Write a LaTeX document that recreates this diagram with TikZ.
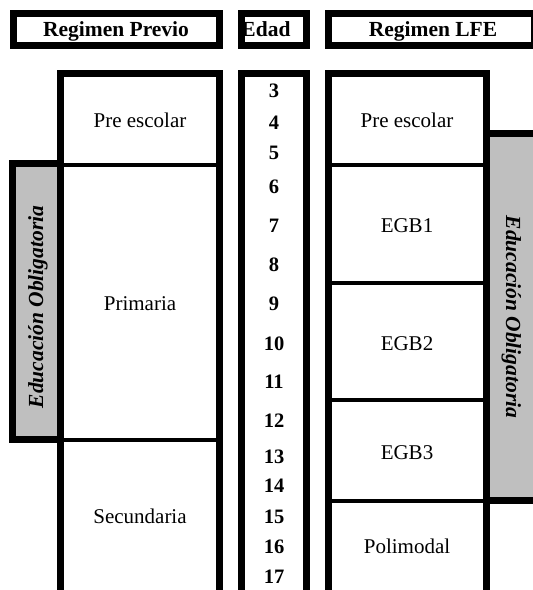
\documentclass[tikz,border=0pt]{standalone}
\usepackage{fontspec}
\setmainfont{Liberation Serif}
\tikzset{
  frame/.style={line width=7pt},
  divider/.style={line width=4pt},
  band/.style={frame, fill=black!25},
  txt/.style={inner sep=0pt, text height=14pt, text depth=0pt},
  cell/.style={txt, font=\fontsize{21}{25}\selectfont},
  head/.style={txt, font=\fontsize{21.5}{25}\selectfont\bfseries},
  age/.style={txt, font=\fontsize{20.5}{24}\selectfont\bfseries},
  vlabel/.style={txt, font=\fontsize{21.5}{25}\selectfont\bfseries\itshape},
}

\begin{document}
\begin{tikzpicture}[x=1pt,y=-1pt]
  \useasboundingbox (0,0) rectangle (533,590);
  \clip (0,0) rectangle (533,590);
  % Headers
  \draw[frame] (13,13) rectangle (219.5,45.5);
  \draw[frame] (241.5,13) rectangle (306.5,45.5);
  \draw[frame] (328.5,13) rectangle (534.5,45.5);
  \node[head] (hprevio) at (116,29) {Regimen Previo};
  \node[head] (hedad) at (266,29) {Edad};
  \node[head] (hlfe) at (433,29) {Regimen LFE};
  % Obligatory bands
  \draw[band] (12.5,163.5) rectangle (60.5,439.5);
  \draw[band] (486.5,133.5) rectangle (540,500.5);
  \node[vlabel, rotate=90] (oblprevio) at (36,307) {Educación Obligatoria};
  \node[vlabel, rotate=-90] (obllfe) at (513,317) {Educación Obligatoria};
  % Columns
  \draw[frame] (60.5,73.5) rectangle (219.5,594);
  \draw[frame] (241.5,73.5) rectangle (306.5,594);
  \draw[frame] (328.5,73.5) rectangle (486.5,594);
  % Regimen previo
  \draw[divider] (60.5,165) -- (219.5,165);
  \draw[divider] (60.5,439.5) -- (219.5,439.5);
  \node[cell] (preprevio) at (140,120) {Pre escolar};
  \node[cell] (primaria) at (140,303) {Primaria};
  \node[cell] (secundaria) at (140,516) {Secundaria};
  % Edades
  \foreach \y/\a in {90/3, 122/4, 152/5, 186/6, 225/7, 264/8, 303/9, 343/10,
      381/11, 420/12, 456/13, 485/14, 516/15, 546/16, 576/17} {
    \node[age] (age\a) at (274,\y) {\a};
  }
  % Regimen LFE
  \draw[divider] (328.5,165) -- (486.5,165);
  \draw[divider] (328.5,283) -- (486.5,283);
  \draw[divider] (328.5,400) -- (486.5,400);
  \draw[divider] (328.5,500.5) -- (486.5,500.5);
  \node[cell] (prelfe) at (407,120) {Pre escolar};
  \node[cell] (egbone) at (407,225) {EGB1};
  \node[cell] (egbtwo) at (407,343) {EGB2};
  \node[cell] (egbthree) at (407,452) {EGB3};
  \node[cell] (polimodal) at (407,546) {Polimodal};
\end{tikzpicture}
\end{document}
